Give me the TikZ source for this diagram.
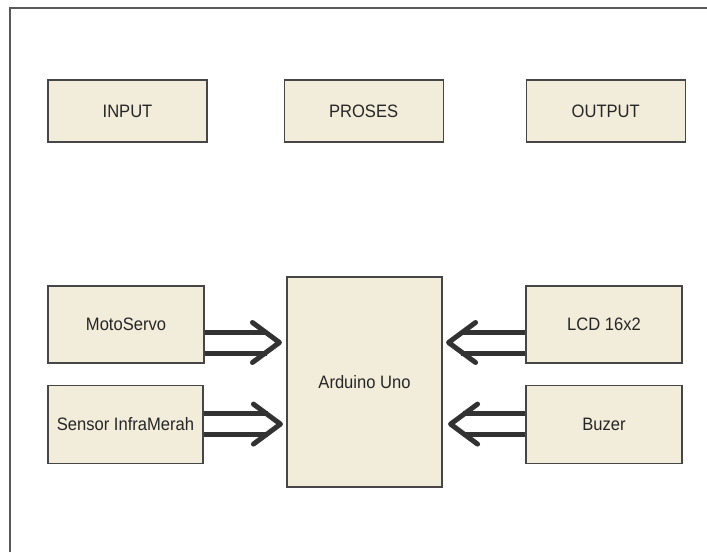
\documentclass[tikz,border=0pt]{standalone}
\usepackage{fontspec}
\setmainfont{Liberation Sans}[FakeStretch=0.92]
\usetikzlibrary{positioning}
\definecolor{boxfill}{RGB}{242,236,218}
\definecolor{boxline}{RGB}{70,70,70}
\definecolor{arrowcol}{RGB}{50,50,50}
\tikzstyle{block} = [rectangle,
			draw = boxline,
			fill = boxfill,
			line width = 1.1pt,
			text = black!85,
			font = \fontsize{18}{21}\selectfont,
			text centered,
			inner sep = 0pt]
\tikzstyle{bar} = [draw = arrowcol,
			line width = 5pt]
\tikzstyle{head} = [draw = arrowcol,
			line width = 5pt,
			line cap = round,
			line join = round]

\begin{document}
\begin{tikzpicture}[x=1pt, y=-1pt]
	\useasboundingbox (0,0) rectangle (707,552);
	\draw[gray!70!black, line width=1.5pt] (10,552) -- (10,8) -- (707,8);
	% header
	\node [block, minimum width=159pt, minimum height=62pt] (input) at (127.5,111) {INPUT};
	\node [block, minimum width=159pt, minimum height=62pt, right=76pt of input] (proses) {PROSES};
	\node [block, minimum width=159pt, minimum height=62pt, right=82pt of proses] (output) {OUTPUT};
	% blocks
	\node [block, minimum width=155pt, minimum height=210pt] (arduino) at (364.5,382) {Arduino Uno};
	\node [block, minimum width=156pt, minimum height=77pt] (motoservo) at (126,324.5) {MotoServo};
	\node [block, minimum width=155pt, minimum height=78pt, below=21pt of motoservo.south west, anchor=north west] (sensor) {Sensor InfraMerah};
	\node [block, minimum width=156pt, minimum height=77pt] (lcd) at (604,324.5) {LCD 16x2};
	\node [block, minimum width=156pt, minimum height=78pt, below=21pt of lcd] (buzer) {Buzer};
	% arrows
	\coordinate (m1) at ([yshift=-18pt]motoservo.east);
	\coordinate[xshift=-7pt] (tip1) at (arduino.west |- m1);
	\coordinate (m2) at (sensor.east);
	\coordinate[xshift=-6pt] (tip2) at (arduino.west |- m2);
	\coordinate (m3) at ([yshift=-18pt]lcd.west);
	\coordinate[xshift=6pt] (tip3) at (arduino.east |- m3);
	\coordinate (m4) at (buzer.west);
	\coordinate[xshift=8pt] (tip4) at (arduino.east |- m4);
	\foreach \m/\t/\s in {m1/tip1/-1, m2/tip2/-1, m3/tip3/1, m4/tip4/1} {
		\draw[bar] ([yshift=10.5pt]\m) -- ([yshift=10.5pt, xshift=\s*12pt]\t);
		\draw[bar] ([yshift=-10.5pt]\m) -- ([yshift=-10.5pt, xshift=\s*12pt]\t);
		\draw[head] (\t) ++(\s*27pt,20pt) -- (\t) -- ++(\s*27pt,-20pt);
	}
\end{tikzpicture}
\end{document}
